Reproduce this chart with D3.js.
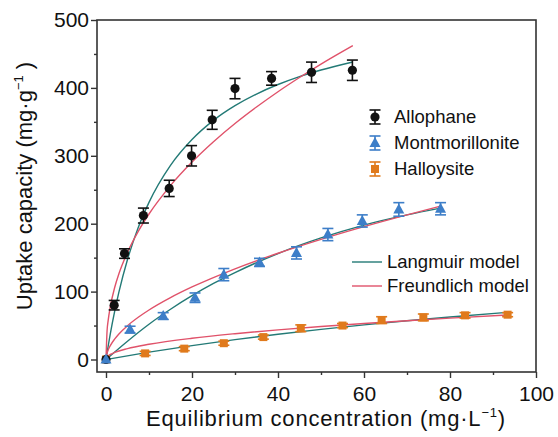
<!DOCTYPE html>
<html>
<head>
<meta charset="utf-8">
<script src="https://cdn.jsdelivr.net/npm/d3@7"></script>
<style>
  body { margin: 0; background: #fff; }
  svg { font-family: "Liberation Sans", Arial, sans-serif; }
</style>
</head>
<body>
<svg id="chart" width="558" height="437"></svg>
<script>
// measured points (C in mg/L, q in mg/g, err = half height of error bar)
const allophaneC   = [0, 1.9, 4.3, 8.7, 14.7, 19.9, 24.7, 30, 38.5, 47.8, 57.3];
const allophaneQ   = [0, 80, 156, 212, 252, 300, 353, 399, 414, 423, 426];
const allophaneErr = [0, 7, 7, 11, 12, 15, 14, 15, 10, 15, 15];

const montC   = [0, 5.6, 13.3, 20.7, 27.4, 35.7, 44.3, 51.6, 59.6, 68.1, 77.8];
const montQ   = [0, 44, 64, 91, 125, 143, 157, 184, 204, 221, 222];
const montErr = [0, 5, 5, 7, 9, 6, 9, 9, 9, 10, 9];

const hallC   = [0, 9.1, 18.2, 27.4, 36.6, 45.3, 55, 64.1, 73.8, 83.5, 93.4];
const hallQ   = [0, 9, 16, 24, 33, 46, 50, 58, 62, 65, 66];
const hallErr = [0, 3, 3, 3, 3, 5, 3, 5, 5, 4, 3];

// model curves as [C, q]
const allophaneLangmuir = [[0,0],[0.5,19.5],[1,37.7],[2,70.4],[3,99.2],[5,147.3],[7.5,194.4],[10,231.4],[15,285.9],[20,324],[25,352.2],[30,373.8],[35,391],[40,405],[45,416.6],[50,426.3],[57.4,438.2]];
const allophaneFreundlich = [[0,0],[0.25,42.3],[0.5,57.3],[1,77.8],[2,105.6],[3,126.2],[5,157.9],[7.5,188.8],[10,214.3],[15,256.1],[20,290.7],[25,320.7],[30,347.5],[35,371.8],[40,394.4],[45,415.3],[50,435.1],[57.4,462.3]];
const montLangmuir = [[0,0],[5,27],[10,52],[15,74],[20,94],[25,112],[30,128],[40,156],[50,179],[60,198],[70,213],[77.8,223]];
const montFreundlich = [[0,0],[0.25,9.5],[0.5,14],[1,20.5],[2,30],[3,37.6],[5,49.8],[7.5,62.2],[10,72.9],[15,91.1],[20,106.8],[30,133.6],[40,156.5],[50,177],[60,195.7],[70,213],[77.8,225.8]];
const hallLangmuir = [[0,0],[10,10.8],[20,20.5],[30,29.2],[40,37.1],[50,44.4],[60,51],[70,57],[80,62.6],[93.3,69.4]];
const hallFreundlich = [[0,0],[0.25,3.8],[0.5,5.3],[1,7.43],[2,10.4],[5,16.1],[10,22.4],[20,31.3],[30,38],[40,43.7],[50,48.6],[60,53],[70,57.1],[80,60.9],[93.3,65.5]];

const xMajor = [0, 20, 40, 60, 80, 100];
const xMinor = [10, 30, 50, 70, 90];
const yMajor = [0, 100, 200, 300, 400, 500];
const yMinor = [50, 150, 250, 350, 450];

const seriesNames = ["Allophane", "Montmorillonite", "Halloysite"];
const modelNames = ["Langmuir model", "Freundlich model"];

const colors = { Allophane: "#111111", Montmorillonite: "#3d7ec8", Halloysite: "#e07a1c" };
const langColor = "#237a76";
const freColor = "#e0526a";
const axisColor = "#333";

const box = { left: 97, right: 536, top: 20, bottom: 372 };

const svg = d3.select("#chart");

const x = d3.scaleLinear().domain([0, 100]).range([106, 536]);
const y = d3.scaleLinear().domain([0, 500]).range([359.5, 20]);

// frame
svg.append("rect")
   .attr("x", box.left).attr("y", box.top)
   .attr("width", box.right - box.left).attr("height", box.bottom - box.top)
   .attr("fill", "none").attr("stroke", axisColor).attr("stroke-width", 1.6);

// axes
function styleAxis(g) {
  g.select(".domain").remove();
  g.selectAll("line").attr("stroke", axisColor).attr("stroke-width", 1.4);
  g.selectAll("text").attr("fill", "#111").style("font-size", "21px");
}

svg.append("g").attr("transform", `translate(0,${box.bottom})`)
   .call(d3.axisBottom(x).tickValues(xMajor).tickSize(6).tickPadding(8).tickFormat(d3.format("d")))
   .call(styleAxis);
svg.append("g").attr("transform", `translate(0,${box.bottom})`)
   .call(d3.axisBottom(x).tickValues(xMinor).tickSize(3).tickFormat(""))
   .call(styleAxis);
svg.append("g").attr("transform", `translate(${box.left},0)`)
   .call(d3.axisLeft(y).tickValues(yMajor).tickSize(6).tickPadding(2).tickFormat(d3.format("d")))
   .call(styleAxis);
svg.append("g").attr("transform", `translate(${box.left},0)`)
   .call(d3.axisLeft(y).tickValues(yMinor).tickSize(3).tickFormat(""))
   .call(styleAxis);

// axis titles
const xt = svg.append("text")
   .attr("x", 326).attr("y", 426)
   .attr("text-anchor", "middle")
   .style("font-size", "22px").style("letter-spacing", "0.8px").attr("fill", "#111");
xt.append("tspan").text("Equilibrium concentration (mg·L");
xt.append("tspan").attr("dy", -9).style("font-size", "13px").text("−1");
xt.append("tspan").attr("dy", 9).text(")");

const yt = svg.append("text")
   .attr("transform", "translate(32,186) rotate(-90)")
   .attr("text-anchor", "middle")
   .style("font-size", "22px").attr("fill", "#111");
yt.append("tspan").text("Uptake capacity (mg·g");
yt.append("tspan").attr("dy", -9).style("font-size", "13px").text("−1");
yt.append("tspan").attr("dy", 9).text(" )");

// model curves
const line = d3.line().x(d => x(d[0])).y(d => y(d[1])).curve(d3.curveMonotoneX);
const curves = svg.append("g").attr("fill", "none").attr("stroke-width", 1.4);
[hallLangmuir, montLangmuir, allophaneLangmuir].forEach(c =>
  curves.append("path").attr("d", line(c)).attr("stroke", langColor));
[hallFreundlich, montFreundlich, allophaneFreundlich].forEach(c =>
  curves.append("path").attr("d", line(c)).attr("stroke", freColor));

// markers
function drawMarker(g, name, cx, cy) {
  const col = colors[name];
  if (name === "Allophane") {
    g.append("circle").attr("cx", cx).attr("cy", cy).attr("r", 4.6).attr("fill", col);
  } else if (name === "Montmorillonite") {
    g.append("path").attr("d", `M${cx},${cy - 6}L${cx + 5.5},${cy + 4}L${cx - 5.5},${cy + 4}Z`).attr("fill", col);
  } else {
    g.append("rect").attr("x", cx - 4).attr("y", cy - 4).attr("width", 8).attr("height", 8).attr("fill", col);
  }
}

function drawErrorBar(g, name, cx, y0, y1) {
  const col = colors[name];
  g.append("line").attr("x1", cx).attr("x2", cx).attr("y1", y0).attr("y2", y1)
   .attr("stroke", col).attr("stroke-width", 1.6);
  [y0, y1].forEach(yy =>
    g.append("line").attr("x1", cx - 5.5).attr("x2", cx + 5.5).attr("y1", yy).attr("y2", yy)
     .attr("stroke", col).attr("stroke-width", 1.6));
}

const seriesData = {
  Halloysite: [hallC, hallQ, hallErr],
  Allophane: [allophaneC, allophaneQ, allophaneErr],
  Montmorillonite: [montC, montQ, montErr]
};

const pts = svg.append("g");
["Halloysite", "Allophane", "Montmorillonite"].forEach(name => {
  const [cs, qs, es] = seriesData[name];
  cs.forEach((c, i) => {
    if (es[i] > 0) drawErrorBar(pts, name, x(c), y(qs[i] + es[i]), y(qs[i] - es[i]));
    drawMarker(pts, name, x(c), y(qs[i]));
  });
});

// legend: samples
const leg = svg.append("g");
const legY = [117, 143, 169];
seriesNames.forEach((name, i) => {
  drawErrorBar(leg, name, 375, legY[i] - 7, legY[i] + 7);
  drawMarker(leg, name, 375, legY[i]);
  leg.append("text").attr("x", 394).attr("y", legY[i]).attr("dy", "0.35em")
     .style("font-size", "18.5px").attr("fill", "#111").text(name);
});

// legend: models
const modY = [262, 286];
modelNames.forEach((name, i) => {
  leg.append("line").attr("x1", 352).attr("x2", 382).attr("y1", modY[i]).attr("y2", modY[i])
     .attr("stroke", i === 0 ? langColor : freColor).attr("stroke-width", 1.4);
  leg.append("text").attr("x", 387).attr("y", modY[i]).attr("dy", "0.35em")
     .style("font-size", "18.5px").attr("fill", "#111").text(name);
});
</script>
</body>
</html>
